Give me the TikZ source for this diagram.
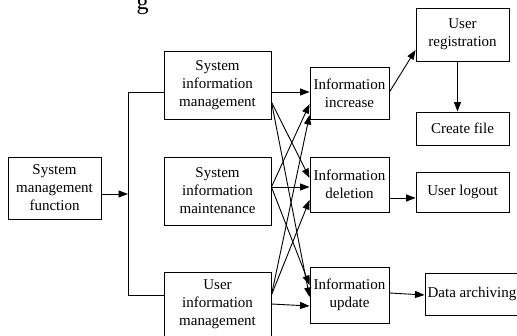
\documentclass[tikz,border=0pt]{standalone}
\usepackage{fontspec}
\setmainfont{Liberation Serif}
\usetikzlibrary{arrows.meta,calc}
\begin{document}
\begin{tikzpicture}[x=1pt,y=-1pt, line width=0.9pt,
 box/.style={draw, align=center, inner sep=0pt, font=\fontsize{15}{18}\selectfont},
 arr/.style={-{Triangle[length=9.5pt,width=7pt]}}]
\useasboundingbox (0,0) rectangle (517,336);
% partial title
\node[anchor=base, inner sep=0pt, font=\fontsize{24}{28}\selectfont] (T) at (142.5,10) {g};
% boxes
\node[box, minimum width=93pt, minimum height=62pt] (F) at (54.5,188) {System\\management\\function};
\node[box, minimum width=107pt, minimum height=68pt] (SIM) at (217.5,85) {System\\information\\management};
\node[box, minimum width=107pt, minimum height=68pt] (MNT) at (217.5,191) {System\\information\\maintenance};
\node[box, minimum width=107pt, minimum height=65pt] (UIM) at (217.5,304.5) {User\\information\\management};
\node[box, minimum width=79pt, minimum height=52pt] (INC) at (349.5,93) {Information\\increase};
\node[box, minimum width=79pt, minimum height=55pt] (DEL) at (349.5,184.5) {Information\\deletion};
\node[box, minimum width=79pt, minimum height=56pt] (UPD) at (349.5,295) {Information\\update};
\node[box, minimum width=93pt, minimum height=53pt] (REG) at (462.5,34.5) {User\\registration};
\node[box, minimum width=93pt, minimum height=33pt] (CF) at (462.5,128.5) {Create file};
\node[box, minimum width=93pt, minimum height=40pt] (LOG) at (462.5,192) {User logout};
\node[box, minimum width=94pt, minimum height=42pt] (ARC) at (472,294) {Data archiving};
% trunk
\coordinate (J0) at (128,194);
\coordinate (J1) at (128,92);
\coordinate (J2) at (128,295);
\draw[arr] ([yshift=-6pt]F.east) -- (J0);
\draw (SIM.west |- J1) -- (J1) -- (J2) -- (UIM.west |- J2);
% middle to info
\draw[arr] ([yshift=-7pt]SIM.east) -- ([yshift=1pt]INC.west);
\draw[arr] ([yshift=-17pt]SIM.east) -- ([yshift=6.5pt]DEL.west);
\draw[arr] ([yshift=-17pt]SIM.east) -- ([yshift=-2pt]UPD.west);
\draw[arr] ([yshift=4pt]MNT.east) -- ([yshift=-11pt]INC.west);
\draw[arr] ([yshift=4pt]MNT.east) -- ([yshift=-2.5pt]DEL.west);
\draw[arr] ([yshift=4pt]MNT.east) -- ([yshift=10pt]UPD.west);
\draw[arr] ([yshift=9.5pt]UIM.east) -- ([yshift=-22pt]INC.west);
\draw[arr] ([yshift=9.5pt]UIM.east) -- ([yshift=-15.5pt]DEL.west);
\draw[arr] ([yshift=0.5pt]UIM.east) -- ([yshift=-11pt]UPD.west);
% info to right column
\draw[arr] ([yshift=1pt]INC.east) -- ([yshift=-15.5pt]REG.west);
\draw[arr] ([xshift=-5pt]REG.south) -- ([xshift=-5pt]CF.north);
\draw[arr] ([yshift=-13.5pt]DEL.east) -- ([yshift=-6pt]LOG.west);
\draw[arr] ([yshift=2pt]UPD.east) -- ([yshift=-1pt]ARC.west);
\end{tikzpicture}
\end{document}
